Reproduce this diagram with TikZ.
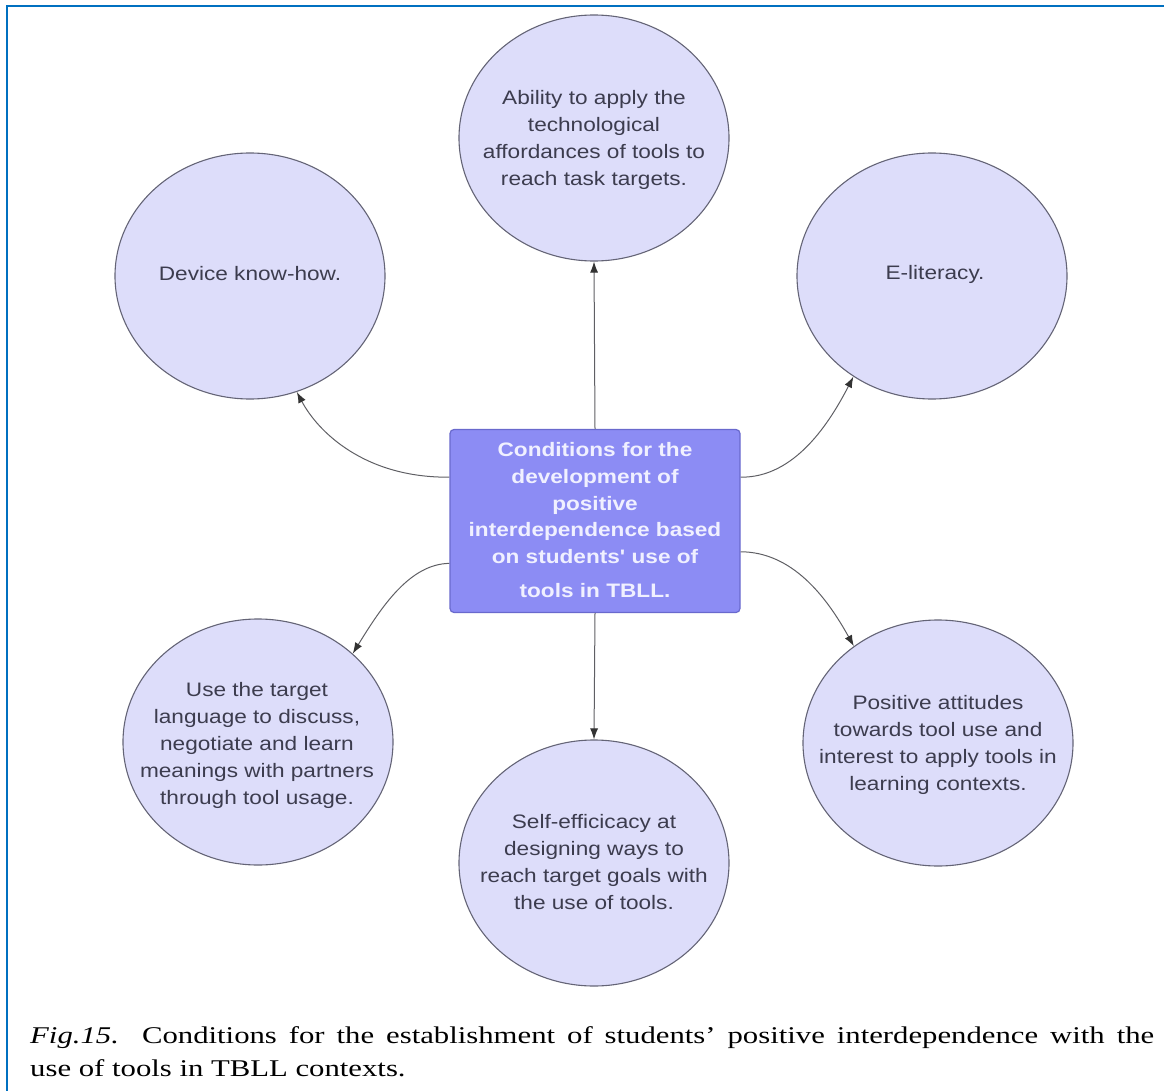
\documentclass[tikz,border=0pt]{standalone}
\usepackage{fontspec}
\setmainfont{Liberation Serif}
\newfontfamily\cfont{Liberation Sans}[FakeStretch=1.16]
\newfontfamily\capfont{Liberation Serif}[FakeStretch=1.28]
\usetikzlibrary{shapes.geometric,arrows.meta,calc}
\definecolor{lav}{RGB}{221,221,250}
\definecolor{bord}{RGB}{100,100,118}
\definecolor{hubf}{RGB}{140,140,244}
\definecolor{hubb}{RGB}{105,105,205}
\definecolor{txt}{RGB}{60,60,78}
\definecolor{linec}{RGB}{95,95,100}
\definecolor{framec}{RGB}{0,112,192}
\begin{document}
\begin{tikzpicture}[x=1pt,y=-1pt,
  bubble/.style={ellipse,draw=bord,fill=lav,line width=1.1pt,inner sep=0pt,minimum width=270pt,minimum height=246pt},
  btext/.style={font=\cfont\fontsize{19.5}{27}\selectfont,text=txt,align=center,inner sep=0pt},
  hub/.style={rectangle,rounded corners=4pt,draw=hubb,fill=hubf,line width=1.2pt,minimum width=290pt,minimum height=183pt,inner sep=0pt},
  htext/.style={font=\cfont\bfseries\fontsize{19.5}{26.7}\selectfont,text=white!94!blue,align=center,inner sep=0pt},
  arr/.style={draw=linec,line width=1pt,-{Latex[length=11pt,width=8pt,color=black!80]}}]
\path[use as bounding box] (0,0) rectangle (1164,1091);
\draw[framec,line width=2.2pt] (7,1091) -- (7,6) -- (1164,6);

% bubbles
\node[bubble] (top) at (594,138) {};
\node[bubble] (dev) at (250,276) {};
\node[bubble] (eli) at (932,276) {};
\node[bubble] (bl) at (258,742) {};
\node[bubble] (bc) at (594,863) {};
\node[bubble] (br) at (938,743) {};

\node[btext] (ttop) at (594,140) {Ability to apply the\\technological\\affordances of tools to\\reach task targets.};
\node[btext] (tdev) at (250,274) {Device know-how.};
\node[btext] (teli) at (935,274) {E-literacy.};
\node[btext] (tbl) at (257,745) {Use the target\\language to discuss,\\negotiate and learn\\meanings with partners\\through tool usage.};
\node[btext] (tbc) at (594,862) {Self-efficicacy at\\designing ways to\\reach target goals with\\the use of tools.};
\node[btext] (tbr) at (938,745) {Positive attitudes\\towards tool use and\\interest to apply tools in\\learning contexts.};

% hub
\node[hub] (hub) at (595,521) {};
\node[htext] (thub) at (595,520) {Conditions for the\\development of\\positive\\interdependence based\\on students' use of\\[7pt]tools in TBLL.};

\coordinate (hl1) at ($(hub.north west)!0.262!(hub.south west)$);
\coordinate (hl2) at ($(hub.north west)!0.73!(hub.south west)$);
\coordinate (hr1) at ($(hub.north east)!0.262!(hub.south east)$);
\coordinate (hr2) at ($(hub.north east)!0.667!(hub.south east)$);

\draw[arr] (hub.north) -- (top.south);
\draw[arr] (hub.south) -- (bc.north);
\draw[arr] (hl1) .. controls (365,478) and (318,432) .. (dev.-68);
\draw[arr] (hr1) .. controls (795,478) and (830,422) .. (eli.-128);
\draw[arr] (hl2) .. controls (410,564) and (382,606) .. (bl.43);
\draw[arr] (hr2) .. controls (792,552) and (826,596) .. (br.131);

% caption
\node[anchor=north west,inner sep=0pt,align=left,font=\capfont\fontsize{24}{33}\selectfont] (cap) at (30,1026)
 {\makebox[1124pt][s]{\textit{Fig.15.} Conditions for the establishment of students’ positive interdependence with the}\\use of tools in TBLL contexts.};
\end{tikzpicture}
\end{document}
